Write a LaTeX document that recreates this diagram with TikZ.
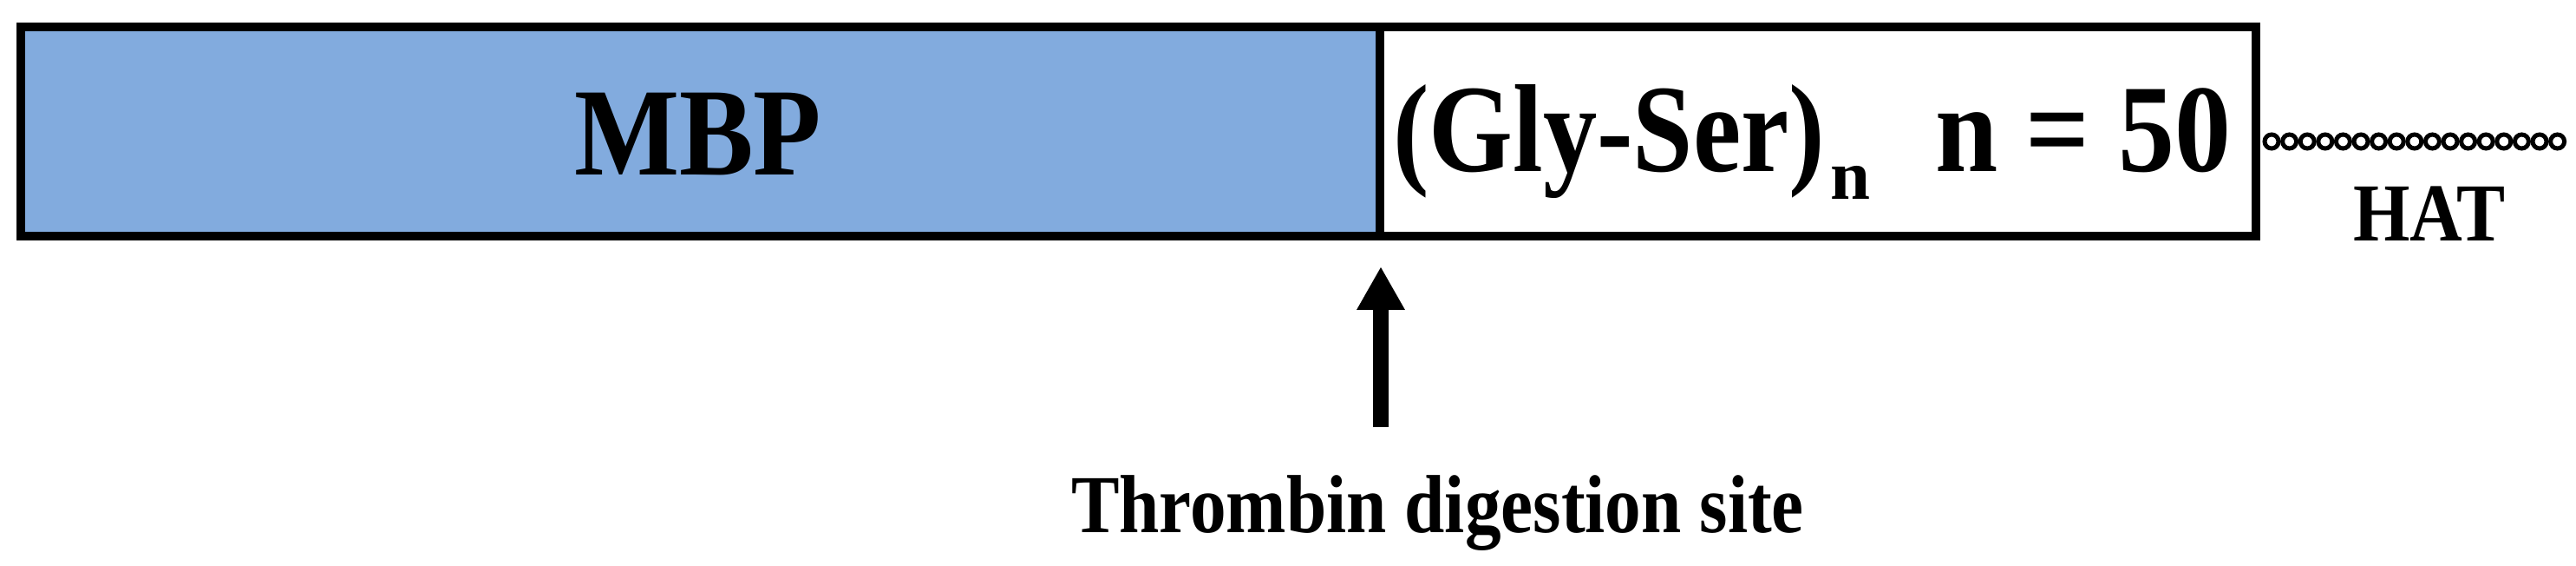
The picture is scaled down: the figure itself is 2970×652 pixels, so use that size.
\documentclass[tikz,border=0pt]{standalone}
\usepackage{fontspec}
\setmainfont{Liberation Serif}
\usepackage{graphicx}
\usetikzlibrary{arrows.meta}
\definecolor{mbpblue}{RGB}{130,171,222}
\newcommand{\fitw}[2]{\resizebox{#1}{\height}{#2}}
\begin{document}
\begin{tikzpicture}[x=0.1mm,y=-0.1mm,
  protbox/.style={draw=black, line width=1mm, inner sep=0pt, outer sep=0pt, minimum height=24.1mm},
  lbl/.style={inner sep=0pt, outer sep=0pt, font=\bfseries},
  bead/.style={draw=black, line width=0.5mm, fill=white},
  sitearrow/.style={line width=1.8mm, -{Triangle[length=5mm,width=5.2mm]}}]
\useasboundingbox (0,0) rectangle (2970,652);
% domains
\node[protbox, fill=mbpblue, minimum width=156.7mm] (mbp) at (807.5,151.5) {};
\node[protbox, fill=white, minimum width=101mm] (gs) at (2096,151.5) {};
% labels
\node[lbl, anchor=base, font=\bfseries\fontsize{41}{41}\selectfont] (mbptxt) at (804.5,202) {\fitw{28.5mm}{MBP}};
\node[lbl, anchor=base west, font=\bfseries\fontsize{41}{41}\selectfont] (gstxt) at (1606,198) {\fitw{49.8mm}{(Gly-Ser)}};
\node[lbl, anchor=base west, font=\bfseries\fontsize{23}{23}\selectfont] (gssub) at (2110,230) {\fitw{4.6mm}{n}};
\node[lbl, anchor=base west, font=\bfseries\fontsize{41}{41}\selectfont] (ntxt) at (2231,198) {\fitw{34.1mm}{n = 50}};
% HAT chain
\foreach \i in {0,...,16} {
  \draw[bead] ({2619+20.6*\i},163) circle (0.8mm);
}
\node[lbl, anchor=base, font=\bfseries\fontsize{27}{27}\selectfont] (hat) at (2801,277) {\fitw{17.6mm}{HAT}};
% thrombin site
\coordinate (tail) at (1592,492);
\coordinate (tip) at (1592,307);
\draw[sitearrow] (tail) -- (tip);
\node[lbl, anchor=base west, font=\bfseries\fontsize{27}{27}\selectfont] (thr) at (1235,613) {\fitw{84.5mm}{Thrombin digestion site}};
\end{tikzpicture}
\end{document}
